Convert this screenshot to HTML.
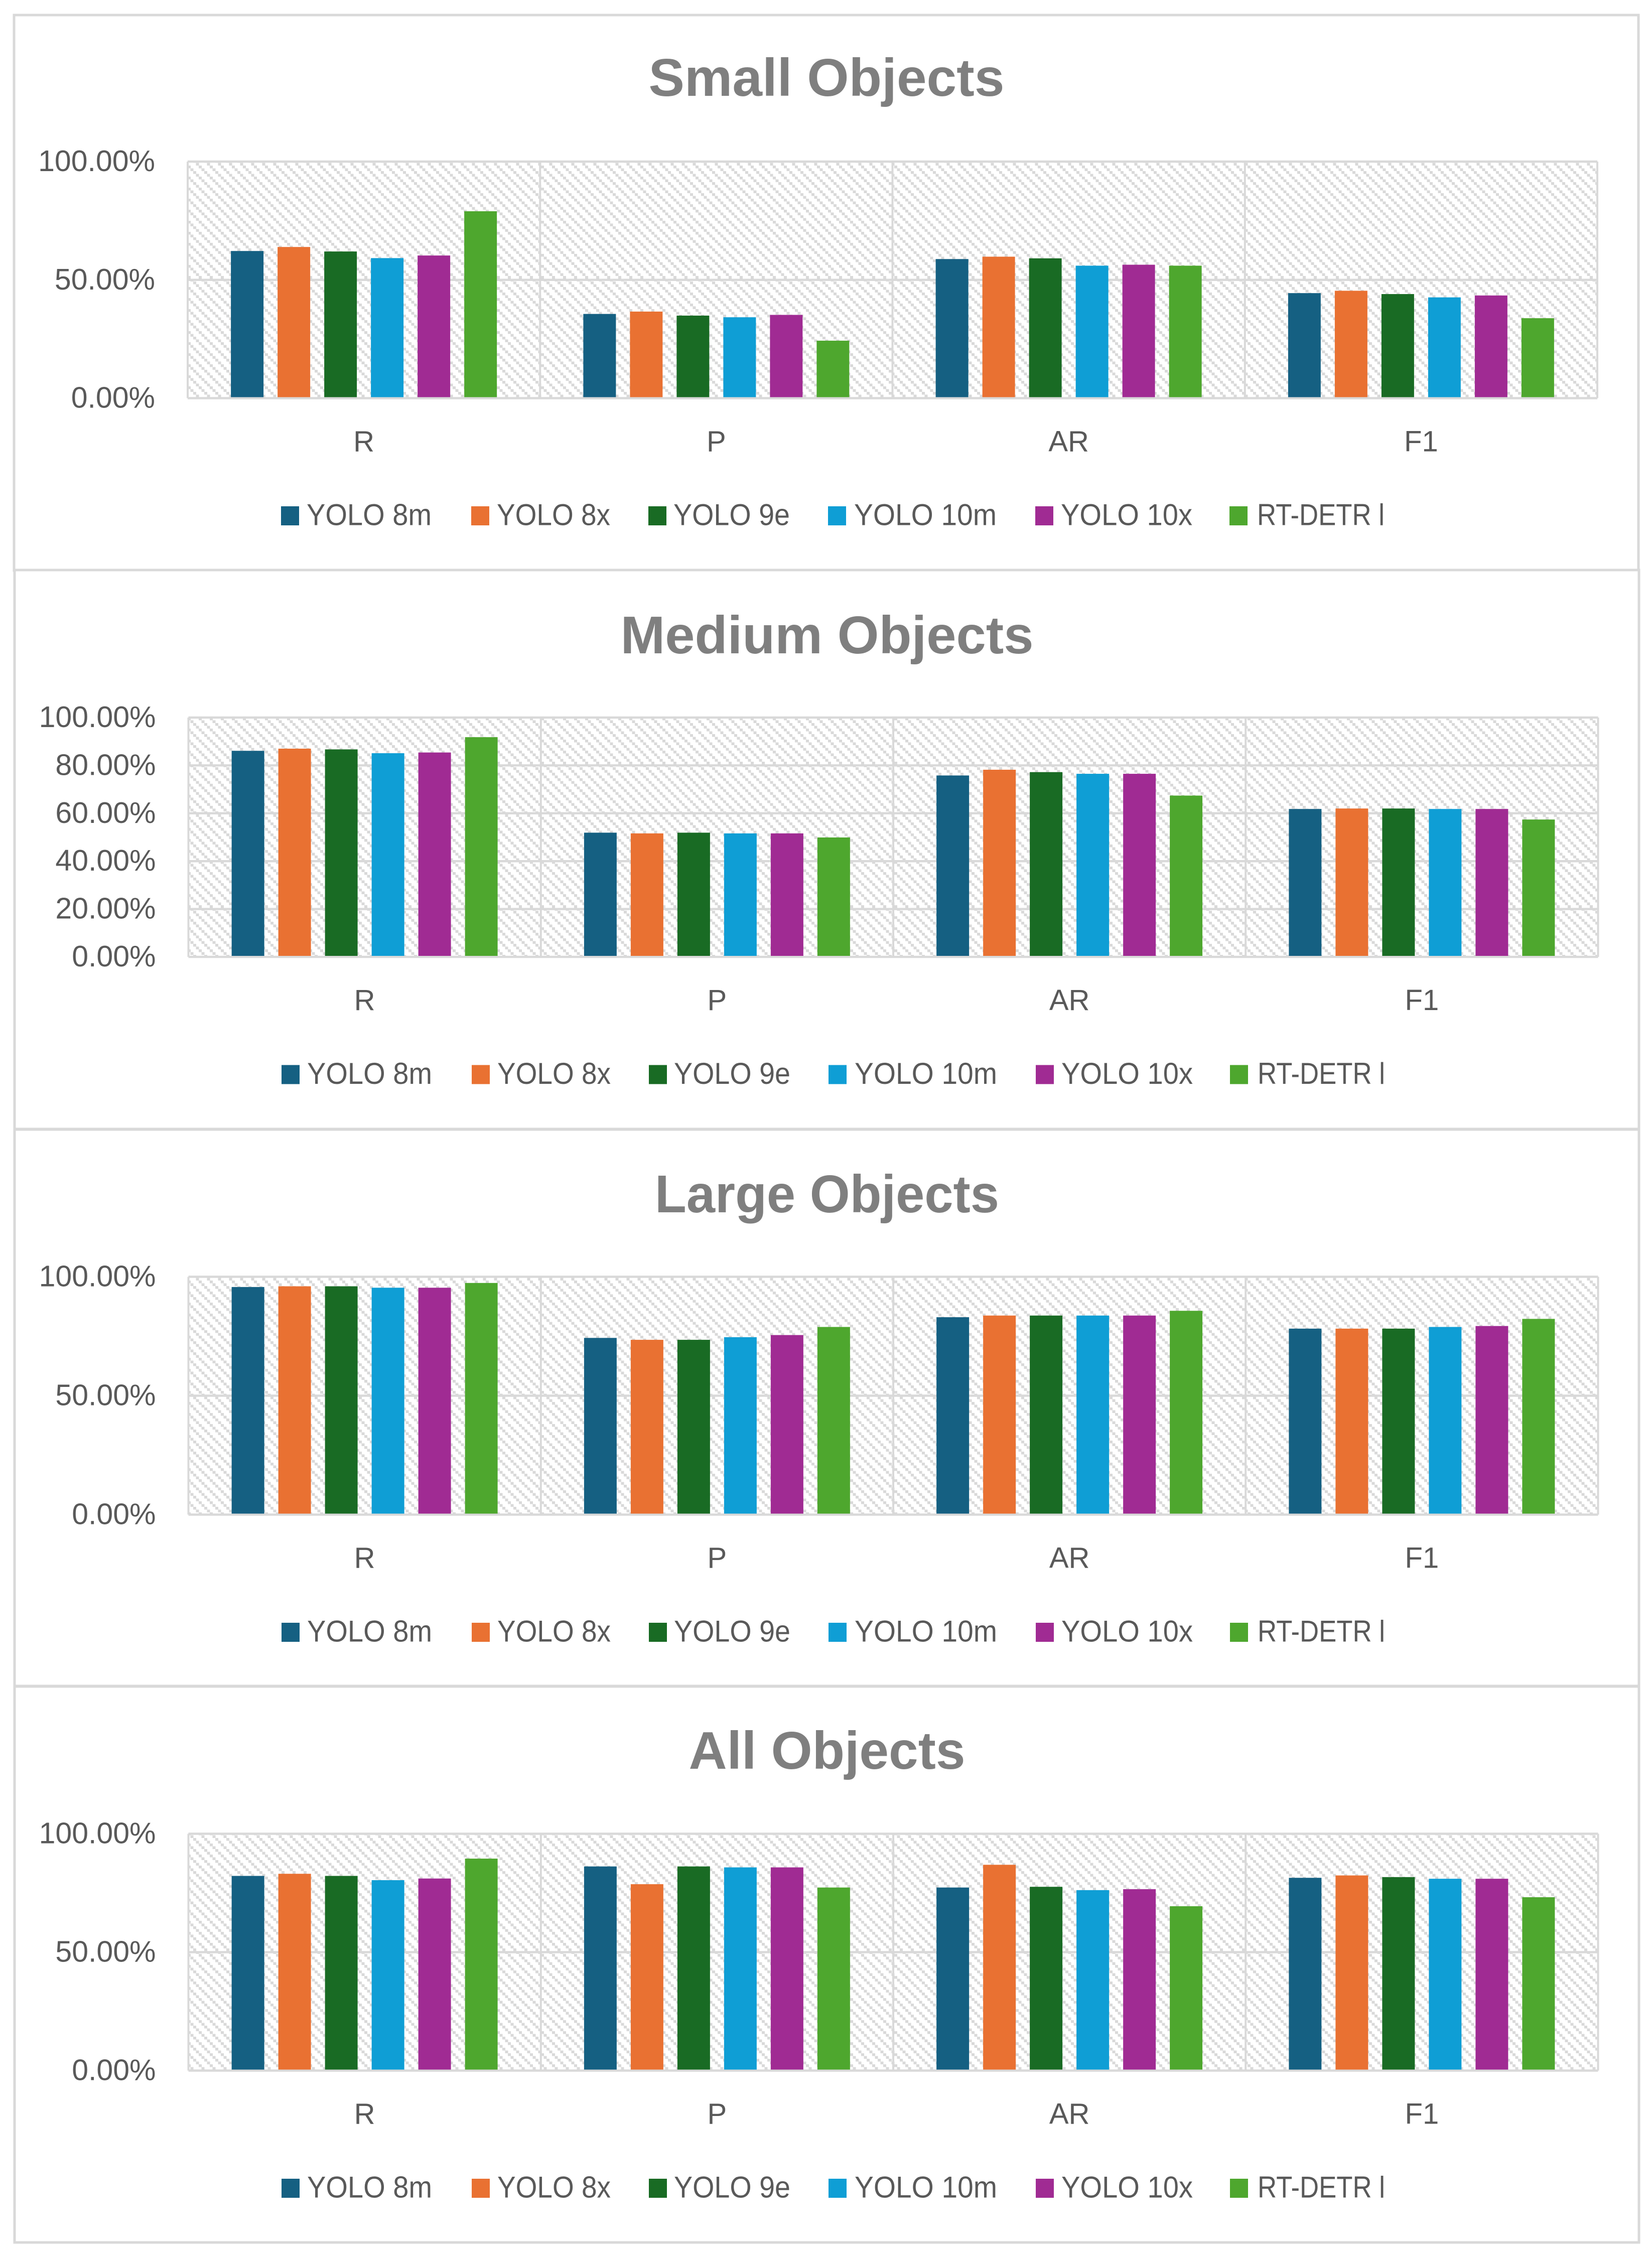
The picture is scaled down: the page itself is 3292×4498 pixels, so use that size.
<!DOCTYPE html>
<html lang="en">
<head>
<meta charset="utf-8">
<title>Object detection metrics by object size</title>
<style>
html,body{margin:0;padding:0;background:#fff;}
svg{display:block;}
text{font-family:"Liberation Sans",sans-serif;}
</style>
</head>
<body>
<svg id="chart-root" xmlns="http://www.w3.org/2000/svg" width="3292" height="4498" viewBox="0 0 3292 4498">
  <defs>
    <pattern id="hatch" patternUnits="userSpaceOnUse" width="22" height="22">
      <rect x="0" y="0" width="6" height="5.5" fill="#d9d9d9"/>
      <rect x="5.5" y="5.5" width="6" height="5.5" fill="#d9d9d9"/>
      <rect x="11" y="11" width="6" height="5.5" fill="#d9d9d9"/>
      <rect x="16.5" y="16.5" width="5.5" height="5.5" fill="#d9d9d9"/>
      <rect x="0" y="16.5" width="0.5" height="5.5" fill="#d9d9d9"/>
    </pattern>
  </defs>
</svg>
<script>
// ---- chart data (percent) ----
const categories = ["R", "P", "AR", "F1"];
const seriesNames = ["YOLO 8m", "YOLO 8x", "YOLO 9e", "YOLO 10m", "YOLO 10x", "RT-DETR l"];
const seriesColors = ["#156082", "#E97132", "#196B24", "#0F9ED5", "#A02B93", "#4EA72E"];

const ticksCoarse = [0, 50, 100];
const ticksFine = [0, 20, 40, 60, 80, 100];

// rows = series, columns = categories (R, P, AR, F1)
const smallValues = [
  [62.2, 35.6, 58.8, 44.4],
  [63.9, 36.6, 59.8, 45.4],
  [62.0, 34.9, 59.1, 44.0],
  [59.2, 34.2, 56.0, 42.6],
  [60.3, 35.2, 56.4, 43.4],
  [79.0, 24.3, 56.0, 33.8]
];
const mediumValues = [
  [86.1, 51.9, 75.8, 61.8],
  [87.0, 51.6, 78.2, 62.0],
  [86.7, 51.9, 77.2, 62.0],
  [85.1, 51.6, 76.5, 61.8],
  [85.4, 51.6, 76.5, 61.8],
  [91.8, 49.9, 67.4, 57.4]
];
const largeValues = [
  [95.7, 74.3, 83.0, 78.2],
  [96.0, 73.5, 83.7, 78.2],
  [96.0, 73.5, 83.7, 78.2],
  [95.4, 74.6, 83.7, 78.9],
  [95.4, 75.5, 83.7, 79.3],
  [97.4, 78.9, 85.7, 82.3]
];
const allValues = [
  [82.2, 86.2, 77.3, 81.4],
  [83.1, 78.7, 86.9, 82.4],
  [82.2, 86.2, 77.6, 81.7],
  [80.4, 85.8, 76.2, 81.0],
  [81.1, 85.8, 76.6, 81.0],
  [89.5, 77.3, 69.4, 73.2]
];

// ---- panel definitions ----
const panels = [
  {slug: "small",  title: "Small Objects",  titleWidth: 709, titleBaseline: 191,  values: smallValues,  ticks: ticksCoarse, frameX: 28, frameTop: 30,   frameBottom: 1137, left: 374,   top: 322,    bottom: 793.5},
  {slug: "medium", title: "Medium Objects", titleWidth: 823, titleBaseline: 1302, values: mediumValues, ticks: ticksFine,   frameX: 29, frameTop: 1136, frameBottom: 2250, left: 375.5, top: 1430,   bottom: 1907},
  {slug: "large",  title: "Large Objects",  titleWidth: 686, titleBaseline: 2416, values: largeValues,  ticks: ticksCoarse, frameX: 29, frameTop: 2251, frameBottom: 3360, left: 375.5, top: 2544.5, bottom: 3018.5},
  {slug: "all",    title: "All Objects",    titleWidth: 551, titleBaseline: 3525, values: allValues,    ticks: ticksCoarse, frameX: 29, frameTop: 3361, frameBottom: 4469, left: 375.5, top: 3654.5, bottom: 4126.5}
];

// ---- layout constants ----
const frameWidth = 3237;
const plotWidth = 2809;
const barWidth = 65;
const barStep = 93;
const legendMarkerLeft = [560, 939, 1292, 1650, 2063, 2450];
const legendTextLeft = [611, 990, 1342, 1702, 2114, 2505];
const legendTextWidth = [249, 226, 232, 284, 262, 254];
const gridColor = "#d9d9d9";
const labelColor = "#595959";

const svgNS = "http://www.w3.org/2000/svg";
const root = document.getElementById("chart-root");

function make(tag, attrs, parent) {
  const el = document.createElementNS(svgNS, tag);
  for (const k in attrs) el.setAttribute(k, attrs[k]);
  parent.appendChild(el);
  return el;
}

panels.forEach(function (p) {
  const g = make("g", {}, root);
  
  

  const yScale = function (v) { return p.bottom - (v / 100) * (p.bottom - p.top); };
  const catWidth = plotWidth / categories.length;
  const groupWidth = barStep * (seriesNames.length - 1) + barWidth;
  const xScale = function (catIndex, seriesIndex) {
    return p.left + catWidth * catIndex + (catWidth - groupWidth) / 2 + barStep * seriesIndex;
  };
  const legendShift = p.slug === "small" ? 0 : 1;

  const frame = make("rect", {x: p.frameX, y: p.frameTop, width: frameWidth, height: p.frameBottom - p.frameTop, fill: "#ffffff", stroke: gridColor, "stroke-width": 5}, g);
  
  

  const title = make("text", {x: p.frameX + 1619, y: p.titleBaseline, "text-anchor": "middle", "font-size": 106, "font-weight": "bold", fill: "#7f7f7f", textLength: p.titleWidth, lengthAdjust: "spacingAndGlyphs"}, g);
  title.textContent = p.title;
  
  

  const plot = make("rect", {x: p.left, y: p.top, width: plotWidth, height: p.bottom - p.top, fill: "url(#hatch)"}, g);
  
  

  p.ticks.forEach(function (t) {
    const line = make("line", {x1: p.left, x2: p.left + plotWidth, y1: yScale(t), y2: yScale(t), stroke: gridColor, "stroke-width": 4.5}, g);
    
    

    const label = make("text", {x: p.left - 65, y: yScale(t) + 19, "text-anchor": "end", "font-size": 59, fill: labelColor}, g);
    label.textContent = t.toFixed(2) + "%";
    
    
  });

  for (let c = 0; c <= categories.length; c++) {
    const divider = make("line", {x1: p.left + catWidth * c, x2: p.left + catWidth * c, y1: p.top, y2: p.bottom, stroke: gridColor, "stroke-width": 4}, g);
    
    
  }

  p.values.forEach(function (seriesValues, s) {
    seriesValues.forEach(function (v, c) {
      const bar = make("rect", {x: xScale(c, s), y: yScale(v), width: barWidth, height: yScale(0) - yScale(v) - 2, fill: seriesColors[s]}, g);
      
      
    });
  });

  categories.forEach(function (cat, c) {
    const label = make("text", {x: p.left + catWidth * (c + 0.5), y: p.bottom + 106, "text-anchor": "middle", "font-size": 58, fill: labelColor}, g);
    label.textContent = cat;
    
    
  });

  seriesNames.forEach(function (name, s) {
    const marker = make("rect", {x: legendMarkerLeft[s] + legendShift, y: p.bottom + 215.5, width: 36, height: 38, fill: seriesColors[s]}, g);
    
    

    const label = make("text", {x: legendTextLeft[s] + legendShift, y: p.bottom + 253, "font-size": 60, fill: labelColor, textLength: legendTextWidth[s], lengthAdjust: "spacingAndGlyphs"}, g);
    label.textContent = name;
    
    
  });
});
</script>
</body>
</html>
